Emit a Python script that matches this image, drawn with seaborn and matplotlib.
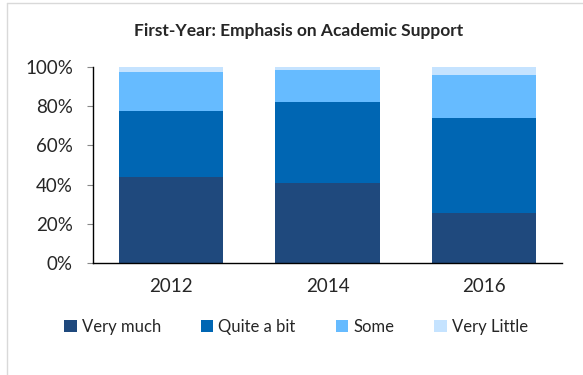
import numpy as np
import pandas as pd
import matplotlib
matplotlib.use('Agg')
import matplotlib.pyplot as plt
import seaborn as sns
from matplotlib.patches import Patch
from matplotlib.lines import Line2D

years = ['2012', '2014', '2016']
very_much = [43.7, 40.6, 25.7]
quite_a_bit = [34.0, 41.7, 48.4]
some = [19.9, 16.2, 22.0]
very_little = [2.4, 1.5, 3.9]

series_names = ['Very much', 'Quite a bit', 'Some', 'Very Little']
colores = ['#1F497D', '#0066B3', '#66BBFF', '#C5E3FF']

sns.set_style('white')
plt.rcParams['font.family'] = ['Lato', 'DejaVu Sans']

df = pd.DataFrame({'Year': years, 'Very much': very_much, 'Quite a bit': quite_a_bit,
                   'Some': some, 'Very Little': very_little})

fig = plt.figure(figsize=(5.83, 3.75), dpi=100)
ax = fig.add_axes([93 / 583, 1 - 263 / 375, (562 - 93) / 583, 196 / 375])

base = np.zeros(len(years))
for nombre, color in zip(series_names, colores):
    sns.barplot(data=df, x='Year', y=nombre, color=color, bottom=base, width=0.667,
                saturation=1, ax=ax, linewidth=0)
    base = base + df[nombre].values

ax.set_xlim(-0.5, 2.5)
ax.set_ylim(0, 100)
ax.set_yticks(np.arange(0, 101, 20))
ax.set_yticklabels([f'{v}%' for v in range(0, 101, 20)], fontsize=13.5)
ax.set_xticklabels(years, fontsize=13.5)
ax.set_xlabel('')
ax.set_ylabel('')
ax.tick_params(axis='y', which='both', left=True, length=4.5, color='#888888', pad=10)
ax.tick_params(axis='x', length=0, pad=11)
for s in ['top', 'right']:
    ax.spines[s].set_visible(False)
for s in ['left', 'bottom']:
    ax.spines[s].set_color('black')
    ax.spines[s].set_linewidth(1)

fig.text(299 / 583, 1 - 31 / 375, 'First-Year: Emphasis on Academic Support',
         ha='center', va='center', fontsize=12.5, fontweight='bold')

handles = [Patch(facecolor=c, edgecolor='none') for c in colores]
fig.legend(handles, series_names, loc='center', bbox_to_anchor=(296 / 583, 1 - 327 / 375),
           ncol=4, frameon=False, fontsize=12, handlelength=0.75, handleheight=0.75,
           handletextpad=0.3, columnspacing=2.4)

# marco del gráfico
fig.add_artist(Line2D([7 / 583, 7 / 583], [0, 1 - 3 / 375], transform=fig.transFigure,
                      color='#D9D9D9', linewidth=1))
fig.add_artist(Line2D([7 / 583, 1], [1 - 3 / 375, 1 - 3 / 375], transform=fig.transFigure,
                      color='#D9D9D9', linewidth=1))

fig.savefig('out.png', dpi=100)
